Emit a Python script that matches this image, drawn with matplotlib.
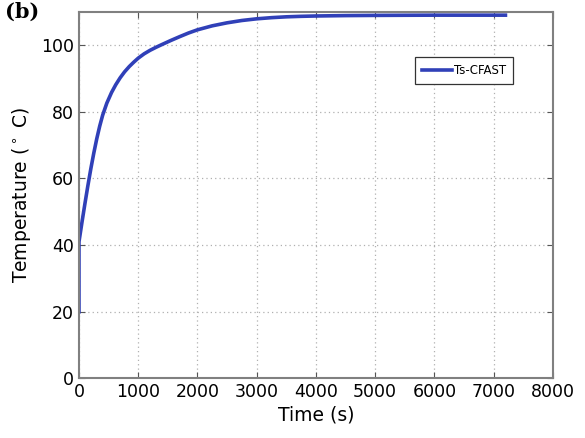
import matplotlib
matplotlib.use("Agg")
import matplotlib.pyplot as plt

time_s = [0, 0, 50, 100, 150, 200, 250, 300, 350, 400, 470, 550, 620, 695,
          770, 850, 925, 1000, 1100, 1200, 1300, 1390, 1550, 1700, 1850, 2000,
          2250, 2500, 2750, 3000, 3250, 3500, 3750, 4000, 4500, 5000, 5500,
          6000, 6500, 7200]
temp_c = [20, 41, 46.8, 52.4, 57.8, 62.9, 67.6, 71.9, 75.7, 79.0, 82.6, 85.8,
          88.1, 90.2, 92.0, 93.6, 94.9, 96.1, 97.4, 98.45, 99.35, 100.1, 101.4,
          102.55, 103.65, 104.6, 105.8, 106.7, 107.4, 107.9, 108.25, 108.5,
          108.65, 108.75, 108.87, 108.93, 108.97, 109.0, 109.0, 109.0]
xticks = [0, 1000, 2000, 3000, 4000, 5000, 6000, 7000, 8000]
yticks = [0, 20, 40, 60, 80, 100]
series_label = "Ts-CFAST"

fig = plt.figure(figsize=(5.85, 4.38), dpi=100)
ax = fig.add_axes([0.135, 0.136, 0.81, 0.837])
ax.plot(time_s, temp_c, color="#3040b8", lw=2.6, label=series_label,
        solid_joinstyle="round")
ax.set_xlim(0, 8000)
ax.set_ylim(0, 110)
ax.set_xticks(xticks)
ax.set_yticks(yticks)
ax.grid(True, ls=(0, (1, 2.5)), color="#b0b0b0", lw=0.9)
ax.tick_params(direction="in", top=True, right=True, labelsize=12.5,
               color="#555555", length=4)
for s in ax.spines.values():
    s.set_color("#808080")
    s.set_linewidth(1.5)
ax.set_xlabel("Time (s)", fontsize=13.5, labelpad=3)
ax.set_ylabel("Temperature ($^\\circ$ C)", fontsize=13.5, labelpad=6)
leg = ax.legend(loc="center", bbox_to_anchor=(0.812, 0.84), fontsize=8.5,
                fancybox=False, framealpha=1, edgecolor="#333333",
                handlelength=2.6, handletextpad=0.1, borderpad=0.6)
leg.get_frame().set_linewidth(0.9)
fig.text(0.008, 0.995, "(b)", family="DejaVu Serif", fontweight="bold",
         fontsize=15, va="top", ha="left")
fig.savefig("out.png", dpi=100)
